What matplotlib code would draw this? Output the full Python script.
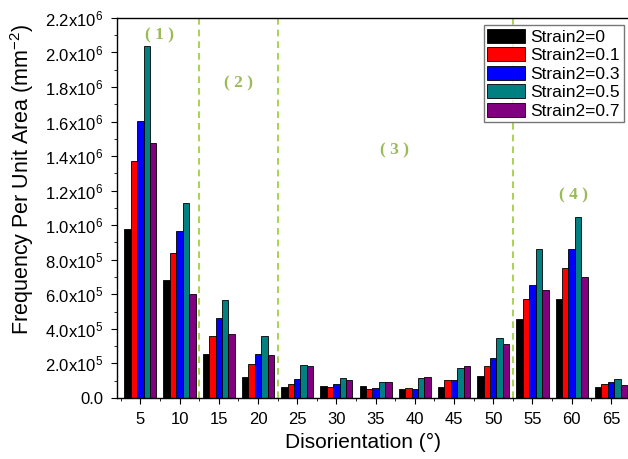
import numpy as np
import matplotlib
matplotlib.use('Agg')
import matplotlib.pyplot as plt
from matplotlib.ticker import FixedLocator, MultipleLocator, FuncFormatter

plt.rcParams['font.family'] = ['Liberation Sans', 'DejaVu Sans']
plt.rcParams['mathtext.fontset'] = 'custom'
plt.rcParams['mathtext.rm'] = 'Liberation Sans'
plt.rcParams['mathtext.default'] = 'regular'

# disorientation bins (degrees)
angles = [5, 10, 15, 20, 25, 30, 35, 40, 45, 50, 55, 60, 65]

strain_labels = ['Strain2=0', 'Strain2=0.1', 'Strain2=0.3', 'Strain2=0.5', 'Strain2=0.7']

# frequency per unit area (mm^-2)
strain_0 = [0.977e6, 0.683e6, 0.255e6, 0.120e6, 0.066e6, 0.069e6, 0.069e6,
            0.054e6, 0.066e6, 0.125e6, 0.456e6, 0.573e6, 0.062e6]
strain_01 = [1.374e6, 0.841e6, 0.359e6, 0.195e6, 0.083e6, 0.062e6, 0.054e6,
             0.058e6, 0.104e6, 0.187e6, 0.573e6, 0.755e6, 0.081e6]
strain_03 = [1.604e6, 0.967e6, 0.461e6, 0.255e6, 0.108e6, 0.079e6, 0.060e6,
             0.054e6, 0.102e6, 0.234e6, 0.651e6, 0.863e6, 0.095e6]
strain_05 = [2.036e6, 1.131e6, 0.567e6, 0.359e6, 0.193e6, 0.116e6, 0.095e6,
             0.118e6, 0.176e6, 0.349e6, 0.863e6, 1.050e6, 0.112e6]
strain_07 = [1.473e6, 0.604e6, 0.369e6, 0.247e6, 0.183e6, 0.104e6, 0.095e6,
             0.122e6, 0.183e6, 0.313e6, 0.627e6, 0.699e6, 0.075e6]

# region boundaries and names
boundaries = [12.5, 22.5, 52.5]
region_names = ['( 1 )', '( 2 )', '( 3 )', '( 4 )']

series = [strain_0, strain_01, strain_03, strain_05, strain_07]
colors = ['#000000', '#ff0000', '#0000ff', '#008080', '#800080']


def y_fmt(v, pos):
    if v <= 1:
        return '0.0'
    exp = int(np.floor(np.log10(v) + 1e-9))
    mant = v / 10 ** exp
    return '%.1fx10$^{%d}$' % (mant, exp)


fig = plt.figure(figsize=(6.28, 4.59), dpi=100)
ax = fig.add_axes([0.186, 0.133, 0.818, 0.828])

bar_w = 0.82
x = np.array(angles, dtype=float)
for i, (vals, col, lab) in enumerate(zip(series, colors, strain_labels)):
    ax.bar(x + (i - 2) * bar_w, vals, width=bar_w, color=col,
           edgecolor='black', linewidth=0.6, label=lab)

for b in boundaries:
    ax.axvline(b, color='#9acd32', linestyle=(0, (4, 3)), linewidth=1.2)

# region labels
label_pos = [(7.45, 2.10e6), (17.5, 1.82e6), (37.35, 1.435e6), (60.2, 1.175e6)]
for name, (px, py) in zip(region_names, label_pos):
    ax.text(px, py, name, color='#9bbb59', fontsize=12.5, fontweight='bold',
            ha='center', va='center', family='Liberation Serif')

ax.set_xlim(2.0, 67.5)
ax.set_ylim(0, 2.2e6)
ax.xaxis.set_major_locator(FixedLocator(angles))
ax.xaxis.set_minor_locator(MultipleLocator(5, offset=2.5))
ax.yaxis.set_major_locator(MultipleLocator(0.2e6))
ax.yaxis.set_minor_locator(MultipleLocator(0.1e6))
ax.yaxis.set_major_formatter(FuncFormatter(y_fmt))

ax.tick_params(axis='x', which='major', labelsize=12, length=4, pad=6, direction='out')
ax.tick_params(axis='y', which='major', labelsize=12, length=4, pad=6, direction='out')
ax.tick_params(which='minor', length=2.5, direction='out')
for s in ax.spines.values():
    s.set_linewidth(1.0)

ax.set_xlabel('Disorientation (°)', fontsize=15)
ax.xaxis.set_label_coords(0.479, -0.093)
ax.set_ylabel('Frequency Per Unit Area (mm$^{-2}$)', fontsize=15.5)
ax.yaxis.set_label_coords(-0.158, 0.574)

leg = ax.legend(loc='upper right', bbox_to_anchor=(0.99, 0.985), fontsize=12.5,
                frameon=True, fancybox=False, edgecolor='#555555',
                handlelength=2.2, handleheight=0.85, labelspacing=0.15,
                handletextpad=0.3, borderpad=0.2, borderaxespad=0.1)
leg.get_frame().set_linewidth(1.0)

fig.savefig('out.png', dpi=100)
